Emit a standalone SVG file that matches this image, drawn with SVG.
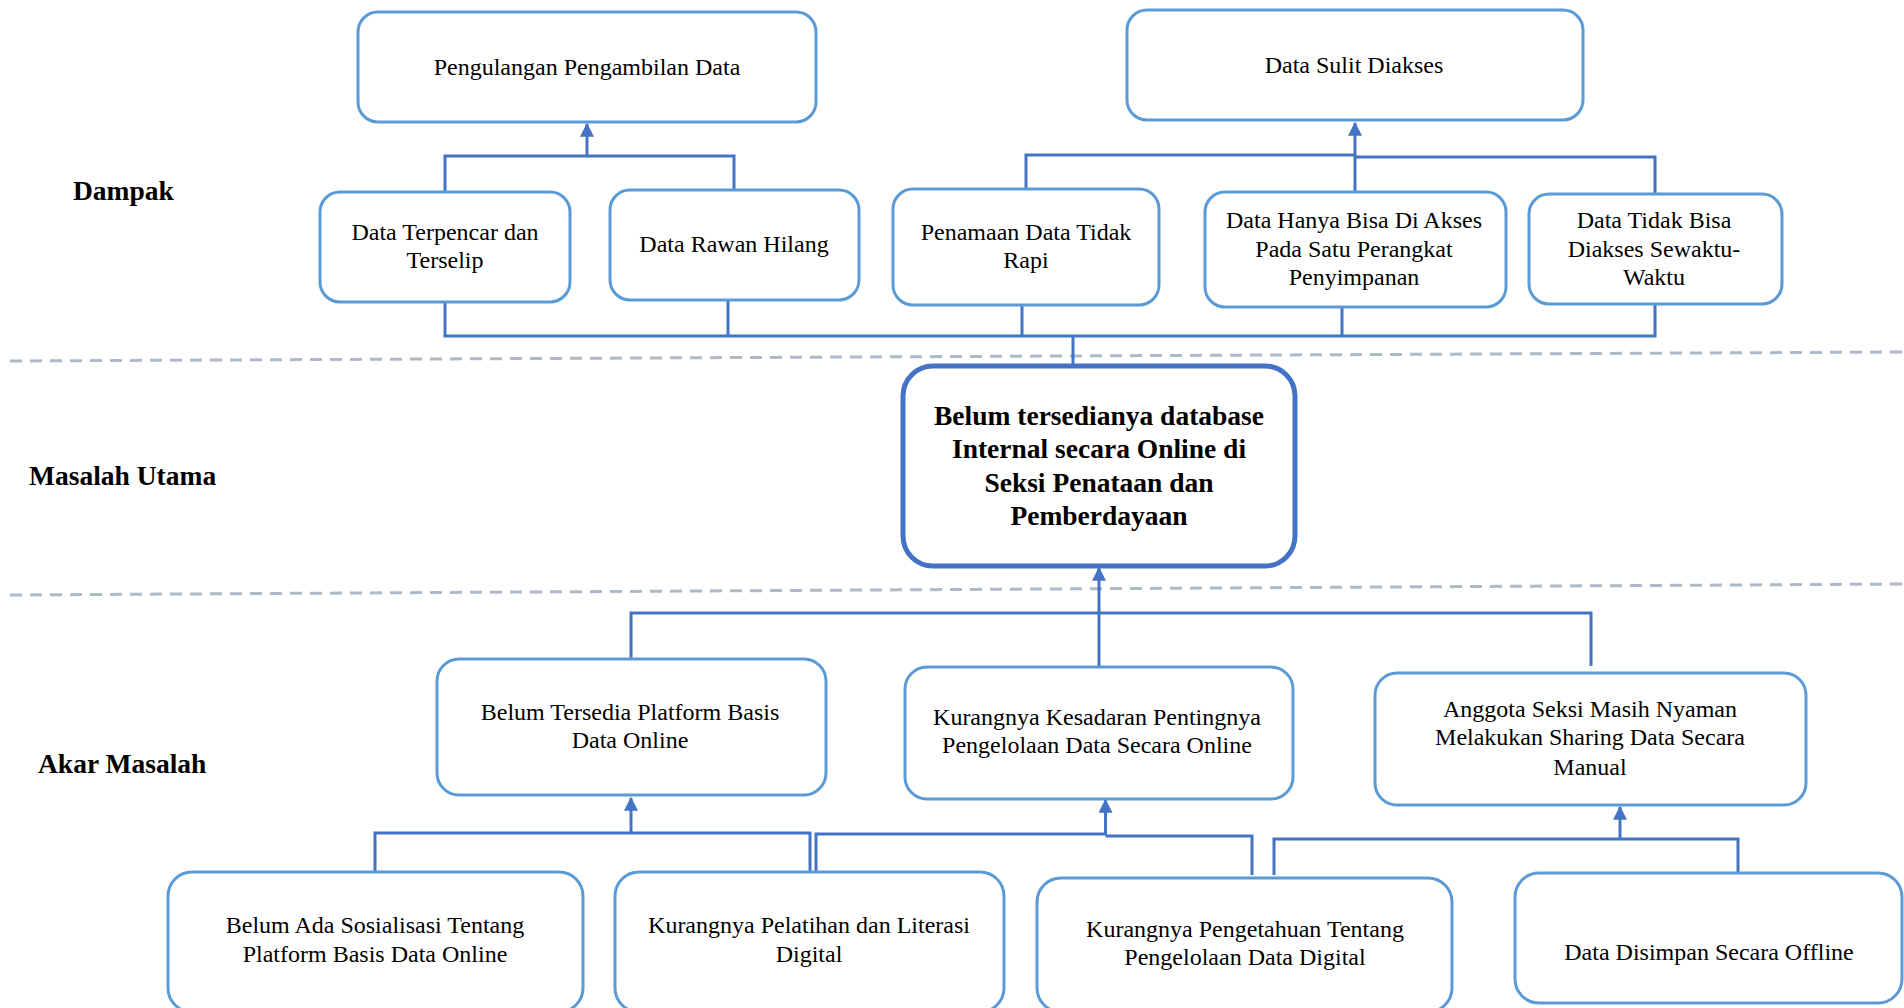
<svg xmlns="http://www.w3.org/2000/svg" width="1904" height="1008" viewBox="0 0 1904 1008">
<style>
.box{fill:#fff;stroke:#5b9bd5;stroke-width:3}
.main{fill:#fff;stroke:#4472c4;stroke-width:5}
.t{font-family:"Liberation Serif","Times New Roman",serif;font-size:24px;fill:#000;text-anchor:middle}
.b{font-family:"Liberation Serif","Times New Roman",serif;font-size:27.5px;font-weight:bold;fill:#000}
.mt{text-anchor:middle}
.c{fill:none;stroke:#4472c4;stroke-width:3}
.d{stroke:#adb9ca;stroke-width:3;stroke-dasharray:12 8}
</style>
<defs>
<marker id="ah" markerUnits="userSpaceOnUse" markerWidth="14" markerHeight="14" viewBox="0 0 12 12" refX="11" refY="6" orient="auto">
<path d="M0,0 L12,6 L0,12 Z" fill="#4472c4"/>
</marker>
</defs>
<rect width="1904" height="1008" fill="#fff"/>
<g id="separators">
<line class="d" x1="10" y1="361" x2="1904" y2="352"/>
<line class="d" x1="10" y1="595" x2="1904" y2="584"/>
</g>
<g id="labels">
<text class="b" x="73" y="200">Dampak</text>
<text class="b" x="29" y="485">Masalah Utama</text>
<text class="b" x="38" y="773">Akar  Masalah</text>
</g>
<g id="connectors">
<path class="c" d="M445,192 V156 H587 V124" marker-end="url(#ah)"/>
<path class="c" d="M734,190 V156 H587"/>
<path class="c" d="M1026,189 V155 H1355 V123" marker-end="url(#ah)"/>
<path class="c" d="M1355,191 V155"/>
<path class="c" d="M1655,193 V157 H1355"/>
<path class="c" d="M445,303 V336 H1655 V304"/>
<path class="c" d="M728,300 V336"/>
<path class="c" d="M1022,305 V336"/>
<path class="c" d="M1342,307 V336"/>
<path class="c" d="M1073,336 V367"/>
<path class="c" d="M631,659 V613 H1591 V666"/>
<path class="c" d="M1099,667 V568" marker-end="url(#ah)"/>
<path class="c" d="M375,872 V833 H810 V872"/>
<path class="c" d="M631,833 V798" marker-end="url(#ah)"/>
<path class="c" d="M816,872 V834 H1105.5 V800" marker-end="url(#ah)"/>
<path class="c" d="M1105.5,836 H1252 V875"/>
<path class="c" d="M1274,875 V839 H1738 V873"/>
<path class="c" d="M1620,839 V807" marker-end="url(#ah)"/>
</g>
<g id="n-pengulangan">
<rect class="box" x="358" y="12" width="458" height="110" rx="20"/>
<text class="t" x="587" y="75">Pengulangan Pengambilan Data</text>
</g>
<g id="n-sulit">
<rect class="box" x="1127" y="10" width="456" height="110" rx="20"/>
<text class="t" x="1354" y="73">Data Sulit Diakses</text>
</g>
<g id="n-terpencar">
<rect class="box" x="320" y="192" width="250" height="110" rx="20"/>
<text class="t" x="445" y="240">Data Terpencar  dan</text>
<text class="t" x="445" y="268">Terselip</text>
</g>
<g id="n-rawan">
<rect class="box" x="610" y="190" width="249" height="110" rx="20"/>
<text class="t" x="734" y="252">Data Rawan Hilang</text>
</g>
<g id="n-penamaan">
<rect class="box" x="893" y="189" width="266" height="116" rx="20"/>
<text class="t" x="1026" y="240">Penamaan Data Tidak</text>
<text class="t" x="1026" y="268">Rapi</text>
</g>
<g id="n-hanya">
<rect class="box" x="1205" y="192" width="301" height="115" rx="20"/>
<text class="t" x="1354" y="228">Data Hanya Bisa Di Akses</text>
<text class="t" x="1354" y="257">Pada Satu Perangkat</text>
<text class="t" x="1354" y="285">Penyimpanan</text>
</g>
<g id="n-tidakbisa">
<rect class="box" x="1529" y="194" width="253" height="110" rx="20"/>
<text class="t" x="1654" y="228">Data Tidak Bisa</text>
<text class="t" x="1654" y="257">Diakses Sewaktu-</text>
<text class="t" x="1654" y="285">Waktu</text>
</g>
<g id="n-main">
<rect class="main" x="903" y="366" width="392" height="200" rx="30"/>
<text class="b mt" x="1099" y="425">Belum tersedianya  database</text>
<text class="b mt" x="1099" y="458">Internal secara Online di</text>
<text class="b mt" x="1099" y="492">Seksi Penataan dan</text>
<text class="b mt" x="1099" y="525">Pemberdayaan</text>
</g>
<g id="n-platform">
<rect class="box" x="437" y="659" width="389" height="136" rx="22"/>
<text class="t" x="630" y="720">Belum Tersedia  Platform Basis</text>
<text class="t" x="630" y="748">Data Online</text>
</g>
<g id="n-kesadaran">
<rect class="box" x="905" y="667" width="388" height="132" rx="22"/>
<text class="t" x="1097" y="725">Kurangnya Kesadaran Pentingnya</text>
<text class="t" x="1097" y="753">Pengelolaan Data Secara Online</text>
</g>
<g id="n-anggota">
<rect class="box" x="1375" y="673" width="431" height="132" rx="22"/>
<text class="t" x="1590" y="717">Anggota Seksi Masih Nyaman</text>
<text class="t" x="1590" y="745">Melakukan Sharing Data Secara</text>
<text class="t" x="1590" y="775">Manual</text>
</g>
<g id="n-sosialisasi">
<rect class="box" x="168" y="872" width="415" height="140" rx="24"/>
<text class="t" x="375" y="933">Belum Ada Sosialisasi  Tentang</text>
<text class="t" x="375" y="962">Platform Basis Data Online</text>
</g>
<g id="n-pelatihan">
<rect class="box" x="615" y="872" width="389" height="140" rx="24"/>
<text class="t" x="809" y="933">Kurangnya Pelatihan dan Literasi</text>
<text class="t" x="809" y="962">Digital</text>
</g>
<g id="n-pengetahuan">
<rect class="box" x="1037" y="878" width="415" height="134" rx="24"/>
<text class="t" x="1245" y="937">Kurangnya Pengetahuan Tentang</text>
<text class="t" x="1245" y="965">Pengelolaan Data Digital</text>
</g>
<g id="n-offline">
<rect class="box" x="1515" y="873" width="387" height="130" rx="24"/>
<text class="t" x="1709" y="960">Data Disimpan Secara Offline</text>
</g>
</svg>
